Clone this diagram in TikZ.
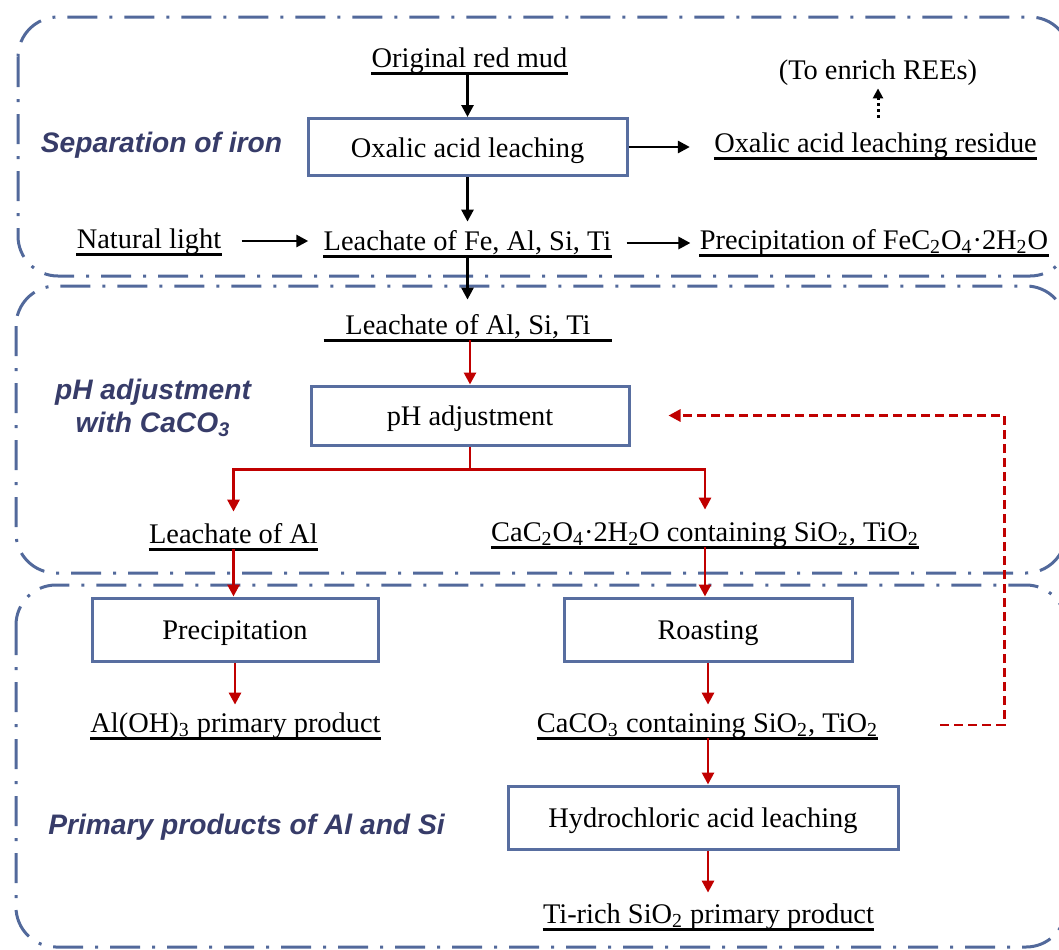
\documentclass[tikz,border=0pt]{standalone}
\usepackage{fontspec}
\setmainfont{Liberation Serif}
\setsansfont{Liberation Sans}
\usetikzlibrary{arrows.meta,calc}
\definecolor{framec}{RGB}{82,105,155}
\definecolor{boxc}{RGB}{88,110,160}
\definecolor{sectc}{RGB}{55,60,105}
\definecolor{redc}{RGB}{192,0,0}
\begin{document}
\begin{tikzpicture}[x=0.5pt,y=-0.5pt,
  txt/.style={font=\fontsize{14.2}{17}\selectfont, inner sep=0pt, text height=10pt, text depth=3pt, anchor=base},
  procbox/.style={draw=boxc, line width=1.5pt, font=\fontsize{14.2}{17}\selectfont, inner sep=0pt, text height=12pt, text depth=2pt},
  sect/.style={font=\fontsize{14.1}{16.5}\selectfont\sffamily\bfseries\itshape, text=sectc, align=center, inner sep=0pt},
  zoneframe/.style={draw=framec, line width=1.5pt, dash pattern=on 15pt off 6pt on 1.5pt off 6pt, rounded corners=20pt},
  ulline/.style={line width=1.5pt},
  arr/.style={line width=1.4pt, -{Triangle[length=6pt,width=6pt]}},
  rarr/.style={arr, draw=redc},
  rline/.style={line width=1.4pt, draw=redc},
  dotarr/.style={line width=1.5pt, dash pattern=on 1.5pt off 1.5pt, -{Triangle[length=5pt,width=5pt]}},
  rdash/.style={line width=1.4pt, draw=redc, dash pattern=on 4.5pt off 2.5pt, -{Triangle[length=6pt,width=6pt]}}
]
\useasboundingbox (0,0) rectangle (1059,949);
\clip (0,0) rectangle (1059,949);

% zone frames
\draw[zoneframe] (18,17) rectangle (1070,276);
\draw[zoneframe] (16,286) rectangle (1066,573);
\draw[zoneframe] (16,585) rectangle (1066,947);

% section labels
\node[sect] (s1) at (161.5,145) {Separation of iron};
\node[sect] (s2) at (153,408) {pH adjustment\\with CaCO\textsubscript{3}};
\node[sect] (s3) at (246.5,827) {Primary products of Al and Si};

% nodes
\node[txt] (orm) at (469.5,67) {Original red mud};
\node[procbox, minimum width=159.5pt, minimum height=28.5pt] (oal) at (467.5,147) {Oxalic acid leaching};
\node[txt] (res) at (875.5,152) {Oxalic acid leaching residue};
\node[txt] (ree) at (878,79) {(To enrich REEs)};
\node[txt] (nl) at (149,248) {Natural light};
\node[txt] (lfe) at (467.5,250) {Leachate of Fe, Al, Si, Ti};
\node[txt] (pfe) at (874,249) {Precipitation of FeC\textsubscript{2}O\textsubscript{4}·2H\textsubscript{2}O};
\node[txt, minimum width=144pt] (las) at (468,334) {Leachate of Al, Si, Ti};
\node[procbox, minimum width=159pt, minimum height=29.5pt] (phb) at (470,415.5) {pH adjustment};
\node[txt] (lal) at (233.5,543) {Leachate of Al};
\node[txt] (cac) at (705,541) {CaC\textsubscript{2}O\textsubscript{4}·2H\textsubscript{2}O containing SiO\textsubscript{2}, TiO\textsubscript{2}};
\node[procbox, minimum width=143pt, minimum height=31.5pt] (pcb) at (235,629.5) {Precipitation};
\node[txt] (aoh) at (235.5,732) {Al(OH)\textsubscript{3} primary product};
\node[procbox, minimum width=144pt, minimum height=31.5pt] (rsb) at (708,629.5) {Roasting};
\node[txt] (cco) at (707.5,732) {CaCO\textsubscript{3} containing SiO\textsubscript{2}, TiO\textsubscript{2}};
\node[procbox, minimum width=195pt, minimum height=31.5pt] (hcb) at (703,817.5) {Hydrochloric acid leaching};
\node[txt] (tsi) at (708.5,923) {Ti-rich SiO\textsubscript{2} primary product};

% underlines
\foreach \n in {orm,res,nl,lfe,pfe,las,lal,cac,aoh,cco,tsi}
  \draw[ulline] (\n.south west) -- (\n.south east);

% black connectors
\draw[arr] (orm.south -| oal.north) -- (oal.north);
\draw[arr, shorten >=4pt] (oal.south) -- (oal.south |- lfe.north);
\draw[arr, shorten >=12pt] (oal.east) -- (oal.east -| res.west);
\draw[dotarr, shorten <=7pt, shorten >=1.5pt] (res.north -| ree.south) -- (ree.south);
\draw[arr, shorten <=10pt, shorten >=7.5pt] (nl.east) -- (nl.east -| lfe.west);
\draw[arr, shorten <=7.5pt, shorten >=4.5pt] (lfe.east) -- (lfe.east -| pfe.west);
\draw[arr, shorten >=7pt] (lfe.south -| oal.south) -- (las.north -| oal.south);

% red connectors
\draw[rarr] (las.south -| phb.north) -- (phb.north);
\coordinate (sp) at ($(phb.south)+(0,23)$);
\draw[rline] (phb.south) -- (sp);
\draw[rarr, shorten >=5.5pt] (sp) -| (lal.north);
\draw[rarr, shorten >=5.5pt] (sp) -| (cac.north);
\draw[rarr] (lal.south) -- (lal.south |- pcb.north);
\draw[rarr, shorten >=3.5pt] (pcb.south) -- (pcb.south |- aoh.north);
\draw[rarr] (cac.south) -- (cac.south |- rsb.north);
\draw[rarr, shorten >=3.5pt] (rsb.south) -- (rsb.south |- cco.north);
\draw[rarr] (rsb.south |- cco.south) -- (rsb.south |- hcb.north);
\draw[rarr, shorten >=5pt] (rsb.south |- hcb.south) -- (rsb.south |- tsi.north);
\draw[rdash, shorten >=19pt] ([xshift=31pt]cco.east) -- ++(32pt,0) |- (phb.east);
\end{tikzpicture}
\end{document}
